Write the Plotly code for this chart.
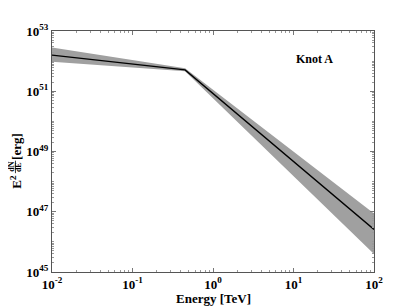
import plotly.graph_objects as go

# Data: energy in TeV, log10 of E^2 dN/dE [erg]
energy = [0.01, 0.45, 100.0]
log_line = [52.20, 51.71, 46.41]
log_upper = [52.45, 51.76, 46.94]
log_lower = [51.98, 51.66, 45.60]

x_tick_vals = [1e-2, 1e-1, 1e0, 1e1, 1e2]
x_tick_text = ["10<sup>-2</sup>", "10<sup>-1</sup>", "10<sup>0</sup>", "10<sup>1</sup>", "10<sup>2</sup>"]
y_tick_vals = [1e45, 1e47, 1e49, 1e51, 1e53]
y_tick_text = ["10<sup>45</sup>", "10<sup>47</sup>", "10<sup>49</sup>", "10<sup>51</sup>", "10<sup>53</sup>"]

line = [10 ** v for v in log_line]
upper = [10 ** v for v in log_upper]
lower = [10 ** v for v in log_lower]

serif = "Liberation Serif, DejaVu Serif, serif"

fig = go.Figure()
fig.add_trace(go.Scatter(x=energy, y=upper, mode="lines", line=dict(width=0, color="#a0a0a0"),
                         showlegend=False, hoverinfo="skip"))
fig.add_trace(go.Scatter(x=energy, y=lower, mode="lines", line=dict(width=0, color="#a0a0a0"),
                         fill="tonexty", fillcolor="#a0a0a0", showlegend=False, hoverinfo="skip"))
fig.add_trace(go.Scatter(x=energy, y=line, mode="lines", line=dict(width=1.4, color="black"),
                         showlegend=False))

axis_common = dict(
    type="log", showgrid=False, zeroline=False, showline=True, linecolor="#555", linewidth=1,
    mirror="allticks", ticks="inside", ticklen=4, tickcolor="#777", automargin=False,
    tickfont=dict(family=serif, size=13, color="black", weight="bold"),
    minor=dict(ticks="inside", ticklen=2, tickcolor="#999", dtick="D1"),
)

fig.update_xaxes(**axis_common, range=[-2, 2], tickvals=x_tick_vals, ticktext=x_tick_text)
fig.update_yaxes(**axis_common, range=[45, 53], tickvals=y_tick_vals, ticktext=y_tick_text)

label_font = dict(family=serif, size=13, color="black")
small_font = dict(family=serif, size=8, color="black")


def ylab(text, x, y, font):
    fig.add_annotation(text=text, x=x, y=y, xref="paper", yref="paper", showarrow=False,
                       textangle=-90, font=font, xanchor="center", yanchor="middle")


fig.add_annotation(text="<b>Energy [TeV]</b>", x=0.5, y=-0.112, xref="paper", yref="paper",
                   showarrow=False, font=label_font, xanchor="center", yanchor="middle")
ylab("<b>E<sup>2</sup></b>", -0.111, 0.376, label_font)
ylab("<b>dN</b>", -0.125, 0.436, small_font)
ylab("<b>dE</b>", -0.102, 0.436, small_font)
fig.add_shape(type="line", xref="paper", yref="paper", x0=-0.1135, x1=-0.1135, y0=0.41, y1=0.462,
              line=dict(color="black", width=0.8))
ylab("<b>[erg]</b>", -0.111, 0.52, label_font)

fig.add_annotation(text="<b>Knot A</b>", x=0.879, y=0.921, xref="paper", yref="paper",
                   showarrow=False, font=dict(family=serif, size=12, color="black"))

# page body has an 8px default margin, so the figure is sized/offset to compensate
fig.update_layout(width=407, height=300, margin=dict(l=44, r=41, t=23, b=36),
                  plot_bgcolor="white", paper_bgcolor="white")

fig.write_html("out.html")
